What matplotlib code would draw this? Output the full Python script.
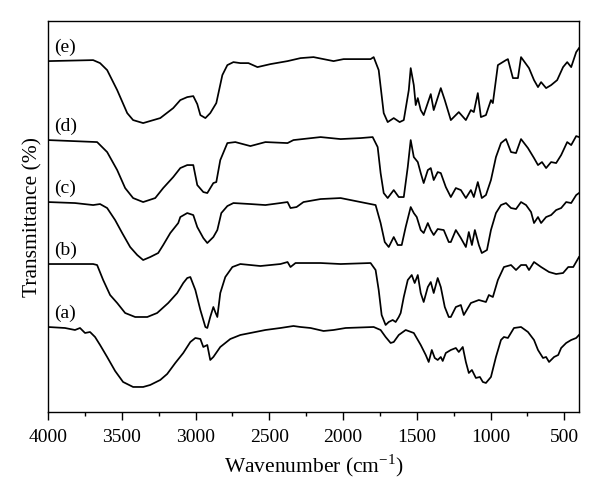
import matplotlib; matplotlib.use('Agg')
import matplotlib.pyplot as plt, numpy as np
from matplotlib.ticker import MultipleLocator

plt.rcParams.update({'font.family': 'Liberation Serif', 'font.size': 14,
                     'mathtext.fontset': 'custom', 'mathtext.rm': 'Liberation Serif'})

# Spectra (wavenumber in cm-1, transmittance in arbitrary offset units)
wn_a = [4000, 3885, 3817, 3783, 3749, 3715, 3681, 3647, 3599, 3545, 3491, 3423, 3355, 3307, 3239, 3192,
        3137, 3083, 3035, 3001, 2967, 2947, 2920, 2900, 2879, 2832, 2764, 2696, 2594, 2526, 2424, 2336,
        2288, 2220, 2132, 2064, 1982, 1792, 1745, 1711, 1677, 1656, 1622, 1575, 1520, 1473, 1439, 1419,
        1398, 1378, 1358, 1337, 1324, 1303, 1269, 1235, 1215, 1188, 1167, 1147, 1126, 1099, 1072, 1052,
        1031, 997, 963, 929, 909, 882, 841, 793, 746, 705, 678, 644, 623, 603, 569, 541, 521, 487, 453,
        419, 400]
t_a = [85, 84, 82, 84, 79, 80, 75, 67, 55, 41, 30, 25, 25, 27, 32, 38,
       49, 59, 70, 74, 73, 65, 67, 52, 55, 65, 73, 77, 80, 82, 84, 86,
       85, 84, 81, 82, 84, 85, 82, 75, 69, 70, 77, 82, 79, 67, 57, 50,
       62, 54, 52, 55, 51, 59, 62, 64, 60, 65, 50, 39, 42, 34, 35, 30,
       29, 35, 55, 72, 75, 74, 84, 85, 80, 72, 62, 54, 55, 50, 55, 57, 64, 69, 72,
       74, 77]

wn_b = [4000, 3694, 3667, 3626, 3579, 3531, 3477, 3409, 3327, 3260, 3185, 3124, 3083, 3056, 3035, 3001,
        2967, 2933, 2920, 2900, 2879, 2866, 2852, 2832, 2798, 2750, 2696, 2560, 2424, 2376, 2356, 2322,
        2152, 2016, 1813, 1779, 1758, 1738, 1711, 1690, 1663, 1643, 1622, 1609, 1588, 1561, 1534, 1514,
        1493, 1473, 1453, 1425, 1405, 1385, 1358, 1337, 1310, 1283, 1269, 1235, 1201, 1181, 1133, 1079,
        1031, 1011, 984, 950, 909, 861, 827, 793, 759, 739, 705, 657, 603, 555, 508, 473, 439, 400]
t_b = [148, 148, 147, 132, 117, 109, 99, 95, 95, 99, 109, 119, 129, 134, 135, 122,
       102, 85, 84, 95, 105, 100, 95, 119, 135, 145, 148, 146, 148, 150, 145, 149,
       149, 148, 149, 142, 122, 97, 87, 90, 92, 90, 95, 99, 115, 132, 137, 129,
       137, 119, 110, 125, 130, 119, 134, 125, 105, 95, 95, 105, 107, 97, 109, 112,
       110, 117, 115, 132, 145, 147, 142, 147, 147, 142, 150, 145, 140, 138, 139, 145, 145, 155]

wn_c = [4000, 3817, 3694, 3647, 3599, 3545, 3497, 3443, 3395, 3355, 3307, 3253, 3219, 3171, 3117, 3103,
        3056, 3015, 2988, 2947, 2920, 2879, 2852, 2825, 2784, 2743, 2628, 2526, 2424, 2376, 2356, 2315,
        2268, 2152, 2016, 1881, 1779, 1745, 1717, 1690, 1656, 1629, 1602, 1575, 1541, 1520, 1500, 1473,
        1453, 1425, 1405, 1385, 1358, 1317, 1283, 1269, 1235, 1201, 1167, 1147, 1126, 1106, 1079, 1059,
        1024, 997, 963, 929, 895, 861, 827, 793, 759, 725, 705, 678, 657, 623, 589, 555, 521, 487, 453,
        419, 400]
t_c = [210, 209, 207, 208, 204, 192, 179, 165, 157, 152, 155, 159, 167, 179, 189, 195,
       199, 197, 185, 174, 169, 175, 182, 199, 206, 209, 208, 207, 209, 210, 204, 205,
       210, 213, 214, 210, 207, 189, 170, 165, 175, 167, 167, 185, 205, 199, 195, 182,
       179, 189, 182, 177, 183, 182, 170, 170, 182, 174, 165, 180, 167, 182, 167, 159,
       162, 182, 199, 207, 209, 204, 203, 210, 207, 200, 189, 195, 189, 195, 197, 202, 204, 210, 209,
       217, 219]

wn_d = [4000, 3667, 3599, 3531, 3477, 3423, 3355, 3273, 3219, 3151, 3103, 3056, 3015, 2988, 2947, 2920,
        2879, 2859, 2832, 2784, 2730, 2628, 2526, 2376, 2336, 2152, 2016, 1881, 1799, 1765, 1745, 1724,
        1697, 1656, 1622, 1588, 1561, 1541, 1520, 1493, 1473, 1453, 1425, 1405, 1385, 1358, 1337, 1303,
        1269, 1235, 1201, 1167, 1133, 1113, 1086, 1059, 1031, 997, 963, 929, 895, 861, 827, 793, 746,
        705, 678, 651, 623, 589, 555, 521, 480, 453, 419, 400]
t_d = [272, 270, 260, 242, 224, 214, 210, 214, 224, 235, 244, 247, 247, 227, 220, 219,
       229, 230, 252, 269, 270, 266, 270, 269, 272, 275, 273, 274, 275, 265, 239, 219,
       214, 222, 215, 215, 245, 272, 255, 250, 239, 229, 242, 244, 232, 240, 239, 225,
       215, 224, 222, 214, 222, 215, 230, 214, 217, 232, 255, 269, 273, 260, 259, 273, 264,
       254, 247, 250, 244, 250, 249, 257, 270, 267, 276, 275]

wn_e = [4000, 3694, 3647, 3599, 3531, 3463, 3423, 3355, 3239, 3151, 3103, 3056, 3015, 2988, 2967, 2933,
        2900, 2859, 2818, 2784, 2743, 2696, 2641, 2580, 2492, 2376, 2288, 2200, 2064, 1996, 1813, 1792,
        1758, 1724, 1697, 1656, 1616, 1588, 1554, 1541, 1520, 1507, 1493, 1473, 1453, 1405, 1385, 1337,
        1310, 1269, 1215, 1167, 1133, 1113, 1086, 1065, 1031, 997, 984, 950, 895, 882, 848, 814, 793,
        739, 705, 678, 657, 623, 589, 548, 508, 480, 453, 419, 400]
t_e = [351, 352, 349, 342, 322, 299, 292, 289, 294, 304, 312, 315, 316, 308, 297, 294,
       299, 309, 337, 347, 350, 349, 349, 345, 348, 351, 354, 355, 351, 353, 353, 355,
       342, 299, 290, 294, 290, 292, 322, 344, 327, 307, 314, 302, 297, 318, 302, 324,
       312, 292, 300, 292, 302, 300, 319, 295, 297, 312, 309, 347, 352, 353, 334, 334, 355,
       344, 332, 325, 330, 324, 327, 332, 345, 350, 345, 360, 364]

spectra = [(wn_a, t_a), (wn_b, t_b), (wn_c, t_c), (wn_d, t_d), (wn_e, t_e)]
labels = ['(a)', '(b)', '(c)', '(d)', '(e)']

fig = plt.figure(figsize=(6.0, 5.03), dpi=100)
ax = fig.add_axes([0.08, 0.181, 0.885, 0.777])

for (wn, t), lab in zip(spectra, labels):
    ax.plot(wn, t, color='black', lw=1.25, solid_joinstyle='round')
    ax.text(3960, t[0] + 5, lab, ha='left', va='bottom', fontsize=14)

ax.set_xlim(4000, 400)
ax.set_ylim(0, 391)
ax.xaxis.set_major_locator(MultipleLocator(500))
ax.xaxis.set_minor_locator(MultipleLocator(250))
ax.set_yticks([])
ax.tick_params(axis='x', which='major', direction='out', length=6, width=1.0, labelsize=14, pad=6)
ax.tick_params(axis='x', which='minor', direction='out', length=3, width=1.0)
for s in ax.spines.values():
    s.set_linewidth(1.0)

ax.set_xlabel(r'Wavenumber (cm$^{-1}$)', fontsize=15.5, labelpad=5)
ax.set_ylabel('Transmittance (%)', fontsize=15.5, labelpad=4)

fig.savefig('out.png', dpi=100)
plt.close(fig)
